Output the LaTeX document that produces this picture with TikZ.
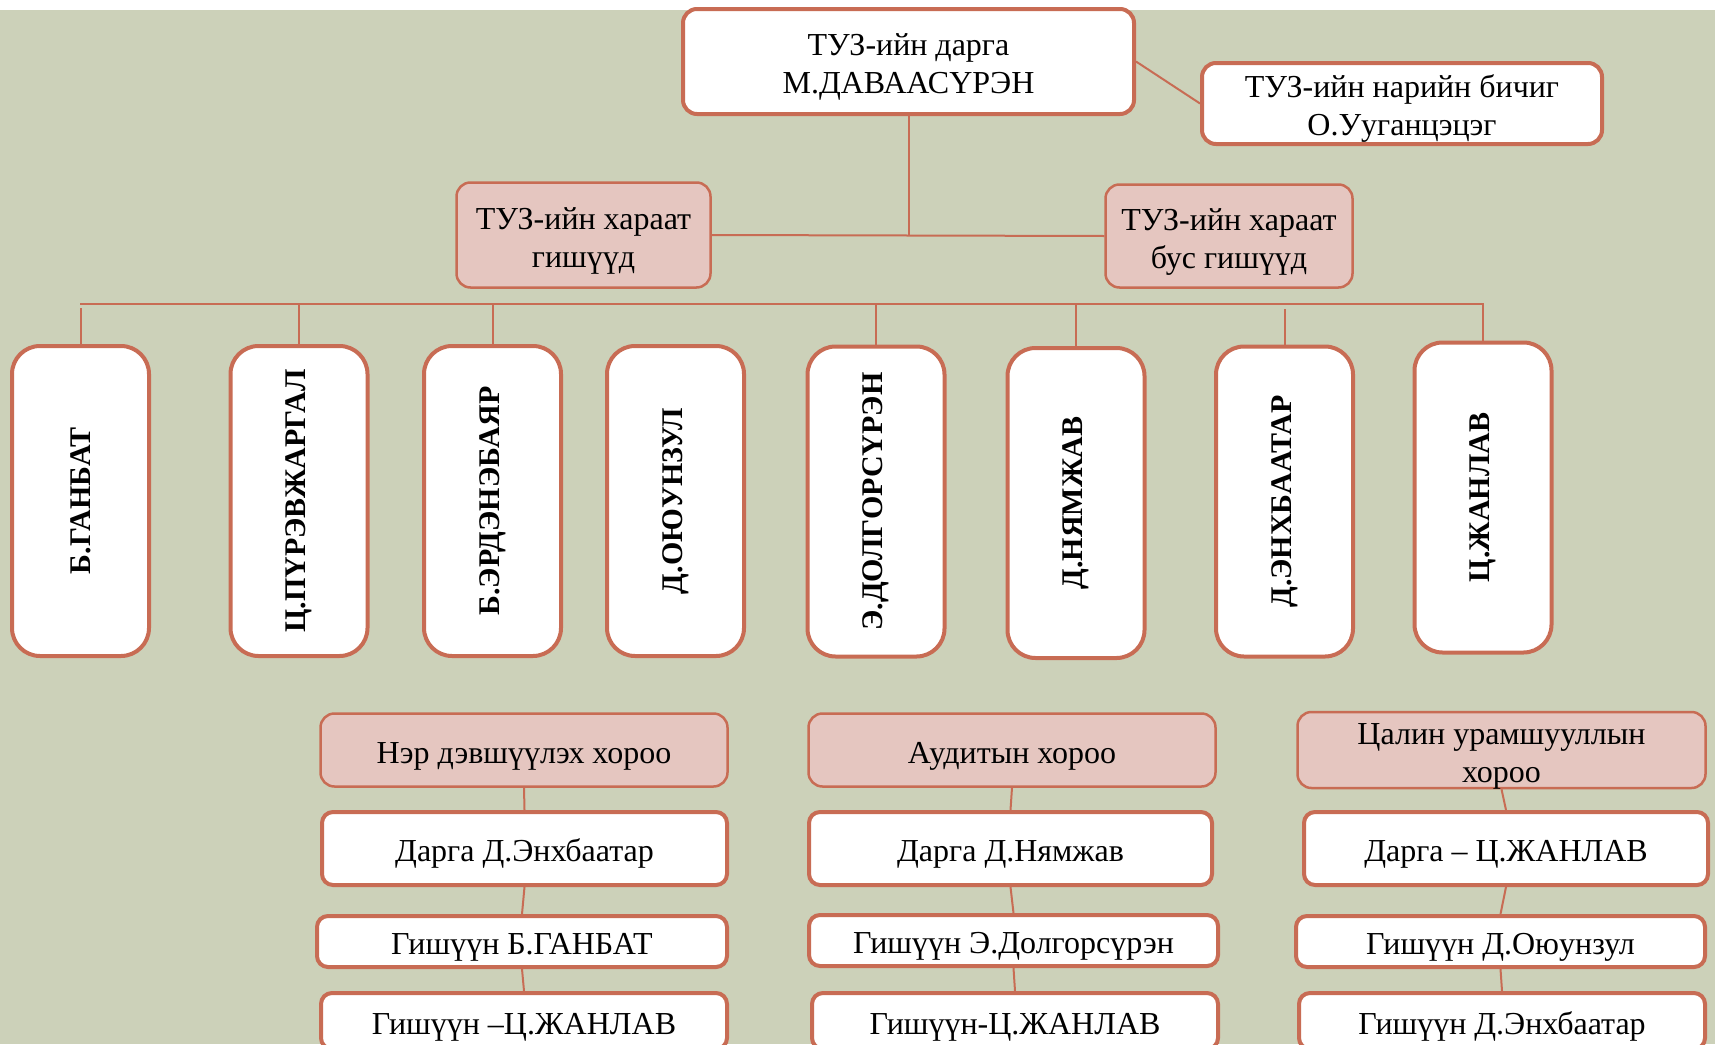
\documentclass[tikz,border=0pt]{standalone}
\usepackage{fontspec}
\usepackage{graphicx}
\setmainfont{Liberation Serif}
\definecolor{bg}{RGB}{204,209,185}
\definecolor{bord}{RGB}{200,108,84}
\definecolor{pinkf}{RGB}{229,198,192}
\newcommand\bxt[1]{\raisebox{-5.5pt}[\height][\depth]{\begin{tabular}{@{}c@{}}#1\end{tabular}}}
\begin{document}
\begin{tikzpicture}[x=1pt,y=-1pt,
  wbox/.style={draw=bord, line width=4pt, fill=white, rounded corners=14pt, inner sep=0pt, font=\fontsize{32}{38}\selectfont},
  sbox/.style={draw=bord, line width=4pt, fill=white, rounded corners=11pt, inner sep=0pt, font=\fontsize{32}{38}\selectfont},
  pbox/.style={draw=bord, line width=2.5pt, fill=pinkf, rounded corners=14pt, inner sep=0pt, font=\fontsize{32}{38}\selectfont},
  vbox/.style={draw=bord, line width=4pt, fill=white, rounded corners=28pt, inner sep=0pt, minimum width=137pt, minimum height=310pt, font=\fontsize{30}{36}\selectfont\bfseries},
  conn/.style={draw=bord, line width=2pt}]
\useasboundingbox (0,0) rectangle (1715,1044);
\clip (0,0) rectangle (1715,1044);
\fill[white] (0,0) rectangle (1715,1044);
\fill[bg] (0,10) rectangle (1715,1044);

% top level
\node[wbox, minimum width=451pt, minimum height=105pt] (chair) at (908.5,61.5) {\bxt{ТУЗ-ийн дарга\\М.ДАВААСҮРЭН}};
\node[wbox, minimum width=400pt, minimum height=81pt] (sec) at (1402,103.5) {\bxt{ТУЗ-ийн нарийн бичиг\\О.Ууганцэцэг}};
\node[pbox, minimum width=254pt, minimum height=105pt] (lp) at (583.5,235) {\bxt{ТУЗ-ийн хараат\\гишүүд}};
\node[pbox, minimum width=247pt, minimum height=103pt] (rp) at (1229,236) {\bxt{ТУЗ-ийн хараат\\бус гишүүд}};

\draw[conn] (chair.east) -- (sec.west);
\draw[conn] (lp.east) -- (rp.west);
\draw[conn] (chair.south) -- (chair.south |- lp.east);

% vertical member boxes
\node[vbox] (v1) at (80.5,501) {\rotatebox{90}{Б.ГАНБАТ}};
\node[vbox] (v2) at (299,501) {\rotatebox{90}{Ц.ПҮРЭВЖАРГАЛ}};
\node[vbox] (v3) at (492.5,501) {\rotatebox{90}{Б.ЭРДЭНЭБАЯР}};
\node[vbox] (v4) at (675.5,501) {\rotatebox{90}{Д.ОЮУНЗУЛ}};
\node[vbox] (v5) at (876,501.5) {\rotatebox{90}{Э.ДОЛГОРСҮРЭН}};
\node[vbox] (v6) at (1076,503) {\rotatebox{90}{Д.НЯМЖАВ}};
\node[vbox] (v7) at (1284.5,501.5) {\rotatebox{90}{Д.ЭНХБААТАР}};
\node[vbox] (v8) at (1483,497.5) {\rotatebox{90}{Ц.ЖАНЛАВ}};

\coordinate (busL) at (80,304);
\coordinate (busR) at (1484,304);
\draw[conn] (busL) -- (busR);
\draw[conn] (v1.north) -- ++(0,-36);
\draw[conn] (v2.north) -- (v2.north |- busL);
\draw[conn] (v3.north) -- (v3.north |- busL);
\draw[conn] (v5.north) -- (v5.north |- busL);
\draw[conn] (v6.north) -- (v6.north |- busL);
\draw[conn] (v7.north) -- ++(0,-36);
\draw[conn] (v8.north) -- (v8.north |- busL);

% committees
\node[pbox, minimum width=407pt, minimum height=73pt] (p1) at (524,750) {\bxt{Нэр дэвшүүлэх хороо}};
\node[sbox, minimum width=405pt, minimum height=73pt] (w1) at (524.5,848.5) {\bxt{Дарга Д.Энхбаатар}};
\node[sbox, minimum width=410pt, minimum height=51pt] (g1a) at (522,941.5) {\bxt{Гишүүн Б.ГАНБАТ}};
\node[sbox, minimum width=406pt, minimum height=56pt] (g1b) at (524,1021) {\bxt{Гишүүн –Ц.ЖАНЛАВ}};

\node[pbox, minimum width=407pt, minimum height=73pt] (p2) at (1012,750) {\bxt{Аудитын хороо}};
\node[sbox, minimum width=403pt, minimum height=73pt] (w2) at (1010.5,848.5) {\bxt{Дарга Д.Нямжав}};
\node[sbox, minimum width=409pt, minimum height=51pt] (g2a) at (1013.5,940.5) {\bxt{Гишүүн Э.Долгорсүрэн}};
\node[sbox, minimum width=406pt, minimum height=56pt] (g2b) at (1015,1021) {\bxt{Гишүүн-Ц.ЖАНЛАВ}};

\node[pbox, minimum width=408pt, minimum height=73pt] (p3) at (1501.5,750) {\bxt{Цалин урамшууллын\\хороо}};
\node[sbox, minimum width=404pt, minimum height=73pt] (w3) at (1506,848.5) {\bxt{Дарга – Ц.ЖАНЛАВ}};
\node[sbox, minimum width=409pt, minimum height=51pt] (g3a) at (1500.5,941.5) {\bxt{Гишүүн Д.Оюунзул}};
\node[sbox, minimum width=406pt, minimum height=56pt] (g3b) at (1502,1021) {\bxt{Гишүүн Д.Энхбаатар}};

\draw[conn] (p1.south) -- (w1.north);
\draw[conn] (w1.south) -- (g1a.north);
\draw[conn] (g1a.south) -- (g1b.north);
\draw[conn] (p2.south) -- (w2.north);
\draw[conn] (w2.south) -- (g2a.north);
\draw[conn] (g2a.south) -- (g2b.north);
\draw[conn] (p3.south) -- (w3.north);
\draw[conn] (w3.south) -- (g3a.north);
\draw[conn] (g3a.south) -- (g3b.north);
\end{tikzpicture}
\end{document}
